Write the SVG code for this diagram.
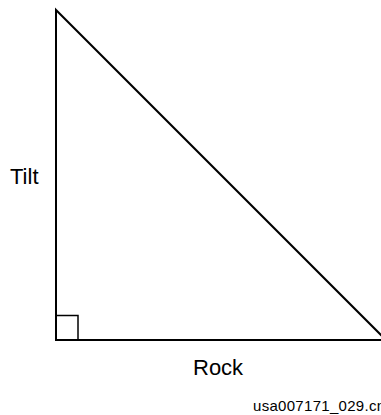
<svg xmlns="http://www.w3.org/2000/svg" width="381" height="415" viewBox="0 0 381 415">
<style>
.ln{fill:none;stroke:#000;stroke-width:2;stroke-linecap:square}
.sq{fill:none;stroke:#000;stroke-width:1.5}
.t{font-family:"Liberation Sans",Arial,sans-serif;font-size:22px;fill:#000}
.f{font-family:"Liberation Sans",Arial,sans-serif;font-size:15px;letter-spacing:0.3px;fill:#000}
</style>
<rect width="381" height="415" fill="#fff"/>
<g id="triangle">
<path class="ln" d="M56,10 L56,340 L386,340 Z"/>
<rect class="sq" x="56" y="315.5" width="22" height="24.5"/>
</g>
<g id="labels">
<text class="t" x="10" y="184">Tilt</text>
<text class="t" x="193" y="375">Rock</text>
<text class="f" x="253" y="411">usa007171_029.cn</text>
</g>
</svg>
